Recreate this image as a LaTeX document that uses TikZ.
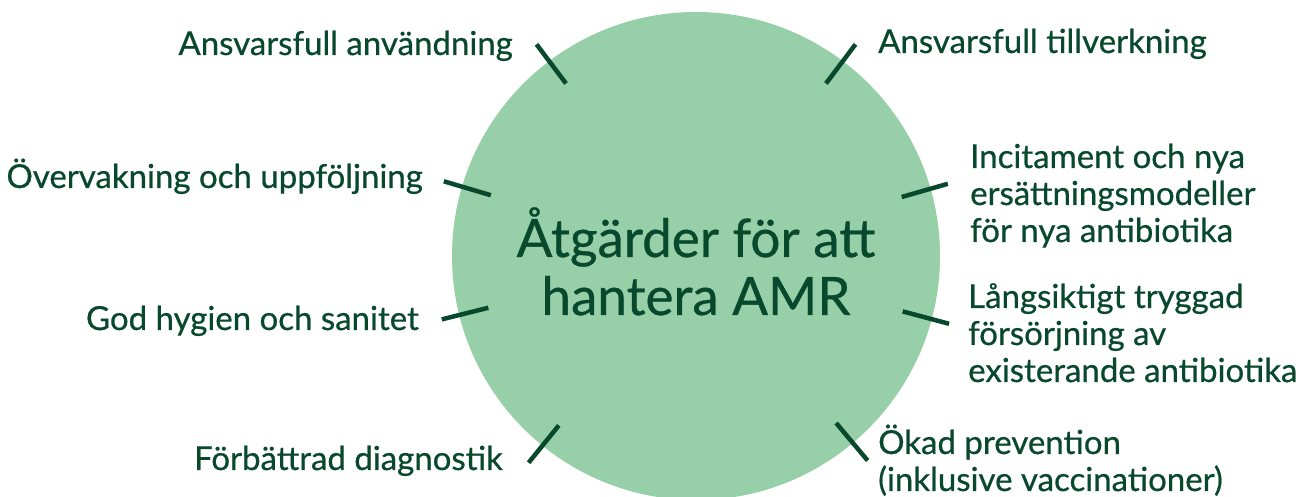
\documentclass[tikz,border=0pt]{standalone}
\usepackage{fontspec}
\newfontfamily\amrfont{Lato}[FakeBold=0.6]
\usepackage{tikz}
\usetikzlibrary{positioning,calc}
\definecolor{circlegreen}{RGB}{150,207,168}
\definecolor{darkgreen}{RGB}{8,72,44}

\begin{document}
\begin{tikzpicture}[x=1pt,y=1pt, every node/.style={font=\amrfont\fontsize{33}{37}\selectfont, text=darkgreen, inner sep=0pt}]
\tikzstyle{lblL}=[align=left,anchor=base west]
\tikzstyle{lblR}=[align=right,anchor=base east]
\tikzstyle{spoke}=[draw=darkgreen,line width=4.5pt]
\useasboundingbox (0,0) rectangle (1302,497);
\clip (0,0) rectangle (1302,497);

% central disc
\coordinate (c) at (696,241);
\fill[circlegreen] (c) circle (244);
\node[align=center,anchor=base,font=\amrfont\fontsize{53}{58}\selectfont] (title) at (696,182) {Åtgärder för att\\hantera AMR};

% left side
\node[lblR] (use) at (513,442) {Ansvarsfull användning};
\node[lblR] (monitor) at (423,309) {Övervakning och uppföljning};
\node[lblR] (hygiene) at (419,167) {God hygien och sanitet};
\node[lblR] (diag) at (503,27) {Förbättrad diagnostik};

% right side (base = last line)
\node[lblL] (make) at (878,444) {Ansvarsfull tillverkning};
\node[lblL] (incent) at (970,255) {Incitament och nya\\ersättningsmodeller\\för nya antibiotika};
\node[lblL] (supply) at (968,115) {Långsiktigt tryggad\\försörjning av\\existerande antibiotika};
\node[lblL] (prevent) at (878,6) {Ökad prevention\\(inklusive vaccinationer)};

% spokes
\draw[spoke] ($(c)+(127:216)$) -- ($(c)+(127:265)$);
\draw[spoke] ($(c)+(53:216)$) -- ($(c)+(53:265)$);
\draw[spoke] ($(c)+(16:214)$) -- ($(c)+(16:262)$);
\draw[spoke] ($(c)+(-15:214)$) -- ($(c)+(-15:262)$);
\draw[spoke] ($(c)+(-50:218)$) -- ($(c)+(-50:267)$);
\draw[spoke] ($(c)+(-129:218)$) -- ($(c)+(-129:266)$);
\draw[spoke] ($(c)+(-166:214)$) -- ($(c)+(-166:262)$);
\draw[spoke] ($(c)+(163.5:214)$) -- ($(c)+(163.5:263)$);
\end{tikzpicture}
\end{document}
